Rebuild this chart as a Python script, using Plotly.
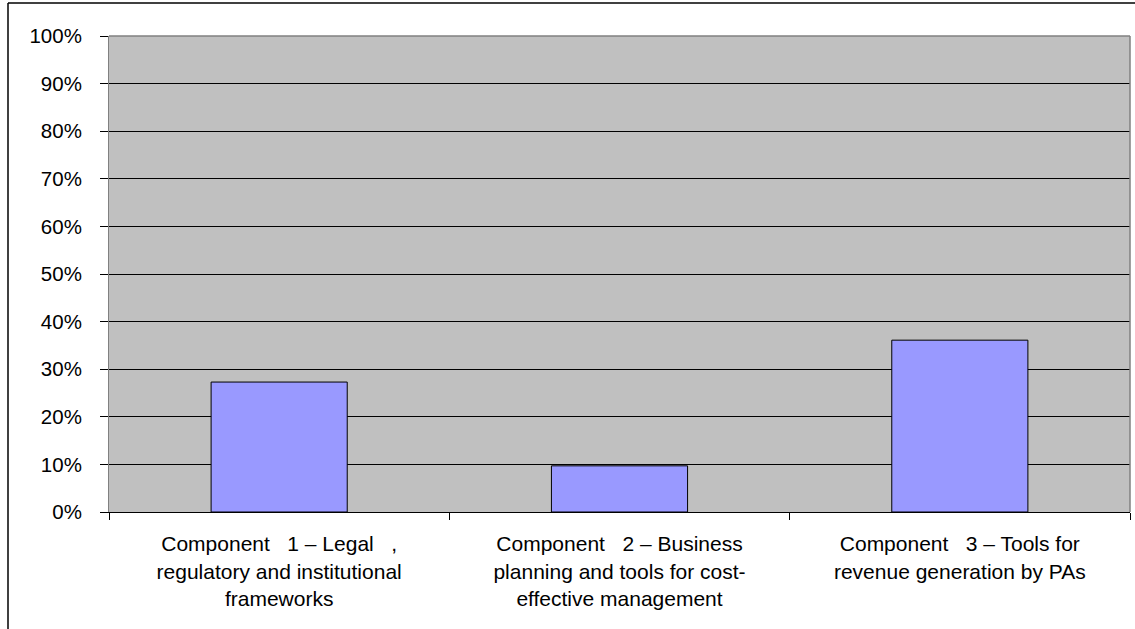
import plotly.graph_objects as go

# Share of activity per project component
categories = [
    "Component\u00a0\u00a0 1 – Legal\u00a0\u00a0 ,<br>regulatory and institutional<br>frameworks",
    "Component\u00a0\u00a0 2 – Business<br>planning and tools for cost-<br>effective management",
    "Component\u00a0\u00a0 3 – Tools for<br>revenue generation by PAs",
]
shares = [0.273, 0.097, 0.361]
y_ticks = [0, 0.1, 0.2, 0.3, 0.4, 0.5, 0.6, 0.7, 0.8, 0.9, 1.0]
y_tick_text = ["0%", "10%", "20%", "30%", "40%", "50%", "60%", "70%", "80%", "90%", "100%"]

W, H = 1135, 629
L, R, T, B = 109, 5, 36, 117
pw, ph = W - L - R, H - T - B

fig = go.Figure(
    go.Bar(
        x=categories,
        y=shares,
        width=0.4,
        marker=dict(color="#9999FF", line=dict(color="#000000", width=1)),
        hoverinfo="skip",
    )
)

font = "Liberation Sans, Arial, sans-serif"

fig.update_layout(
    width=W,
    height=H,
    margin=dict(l=L, r=R, t=T, b=B, pad=0),
    paper_bgcolor="#FFFFFF",
    plot_bgcolor="#C0C0C0",
    showlegend=False,
    bargap=0.6,
    font=dict(family=font, size=20, color="#000000"),
    xaxis=dict(
        type="category",
        tickson="boundaries",
        ticks="outside",
        ticklen=7,
        tickwidth=1,
        tickcolor="#000000",
        ticklabelstandoff=13,
        showline=True,
        linecolor="#000000",
        linewidth=1,
        showgrid=False,
        tickfont=dict(family=font, size=21, color="#000000"),
        tickangle=0,
        fixedrange=True,
    ),
    yaxis=dict(
        range=[0, 1],
        tickvals=y_ticks,
        ticktext=y_tick_text,
        ticks="outside",
        ticklen=8,
        tickwidth=1,
        tickcolor="#000000",
        ticklabelstandoff=14,
        showline=True,
        linecolor="#808080",
        linewidth=1,
        showgrid=True,
        gridcolor="#000000",
        gridwidth=1,
        zeroline=False,
        tickfont=dict(family=font, size=20.5, color="#000000"),
        fixedrange=True,
    ),
    shapes=[
        # plot area frame (top and right edges)
        dict(type="line", xref="paper", yref="paper", x0=0, x1=1, y0=1, y1=1,
             line=dict(color="#808080", width=1.5)),
        dict(type="line", xref="paper", yref="paper", x0=1, x1=1, y0=0, y1=1,
             line=dict(color="#808080", width=1.5)),
        # outer chart border
        dict(type="line", xref="paper", yref="paper",
             x0=(8 - L) / pw, x1=(8 - L) / pw, y0=(ph + T - 3) / ph, y1=-(B + 10) / ph,
             line=dict(color="#000000", width=1.5)),
        dict(type="line", xref="paper", yref="paper",
             x0=(8 - L) / pw, x1=(W + 10 - L) / pw, y0=(ph + T - 3) / ph, y1=(ph + T - 3) / ph,
             line=dict(color="#000000", width=1.5)),
    ],
)

fig.write_html("out.html")
